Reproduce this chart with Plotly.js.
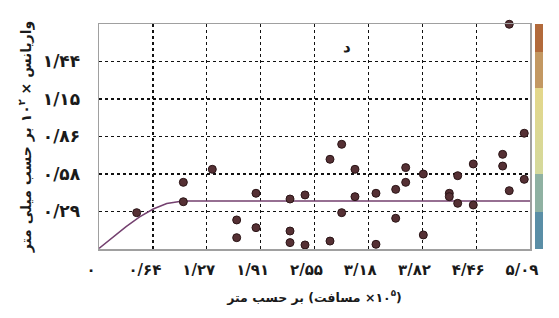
<!DOCTYPE html>
<html>
<head>
<meta charset="utf-8">
<script src="https://cdn.plot.ly/plotly-3.0.1.min.js"></script>
<style>html,body{margin:0;padding:0;background:#fff;}#chart{width:559px;height:318px;}</style>
</head>
<body>
<div id="chart"></div>
<script>
// Experimental variogram points (distance ×10^5 m, variance ×10^2 mm)
const lagX = [0.445, 0.996, 0.996, 1.338, 1.626, 1.626,
  1.854, 1.854, 2.256, 2.433, 2.256, 2.256, 2.433, 2.728, 2.866, 3.023, 3.023, 2.866, 2.728, 3.271, 3.271,
  3.504, 3.504, 3.622, 3.622, 3.830, 3.830, 4.137, 4.137, 4.236, 4.236, 4.420, 4.420, 4.767, 4.767, 4.845, 5.022, 5.022,
  4.845];
const gammaY = [0.279, 0.512, 0.363, 0.612, 0.223, 0.087,
  0.428, 0.164, 0.384, 0.415, 0.138, 0.049, 0.031, 0.689, 0.804, 0.612, 0.402, 0.279, 0.061, 0.428, 0.036,
  0.458, 0.236, 0.625, 0.512, 0.576, 0.108, 0.428, 0.402, 0.563, 0.351, 0.653, 0.338, 0.727, 0.637, 0.448, 0.889, 0.535,
  1.726];
// Fitted model curve
const modelX = [0, 0.16, 0.32, 0.48, 0.64, 0.80, 0.99, 5.09];
const modelY = [0.005, 0.088, 0.172, 0.246, 0.307, 0.349, 0.368, 0.368];
// Tick values / labels
const xTickVals = [0, 0.636, 1.273, 1.909, 2.545, 3.18, 3.82, 4.455, 5.09];
const xTickText = ['۰', '۰/۶۴', '۱/۲۷', '۱/۹۱', '۲/۵۵', '۳/۱۸', '۳/۸۲', '۴/۴۶', '۵/۰۹'];
const yTickVals = [0.288, 0.576, 0.864, 1.152, 1.44];
const yTickText = ['۰/۲۹', '۰/۵۸', '۰/۸۶', '۱/۱۵', '۱/۴۴'];
const colorbarLevels = [0, 1];
const panelLabel = 'د';
const xTitle = '\u200F(۱۰<sup>۵</sup>× مسافت) بر حسب متر';
const yTitle = 'واریانس × ۱۰<sup>۲</sup> بر حسب میلی متر';

const fontFam = 'DejaVu Sans, sans-serif';

const traces = [
  {
    x: modelX, y: modelY, type: 'scatter', mode: 'lines',
    line: {color: '#74406f', width: 1.5}, hoverinfo: 'skip', showlegend: false
  },
  {
    x: lagX, y: gammaY, type: 'scatter', mode: 'markers', cliponaxis: false,
    marker: {size: 8, color: '#553034', line: {color: '#2a1416', width: 1}},
    showlegend: false
  },
  {
    x: [null, null], y: [null, null], type: 'scatter', mode: 'markers', showlegend: false, hoverinfo: 'skip',
    marker: {
      color: colorbarLevels, cmin: 0, cmax: 1, showscale: true,
      colorscale: [[0, '#5a8ea6'], [0.164, '#5a8ea6'], [0.164, '#8fb1a2'], [0.333, '#8fb1a2'],
                   [0.333, '#d4d99c'], [0.716, '#e4d78a'], [0.716, '#c39862'], [0.876, '#c39862'],
                   [0.876, '#b26a3b'], [1, '#b26a3b']],
      colorbar: {x: 1.0116, xanchor: 'left', xref: 'paper', y: 0, yanchor: 'bottom', len: 1, lenmode: 'fraction',
                 thickness: 8, xpad: 0, ypad: 0, outlinewidth: 0, showticklabels: false, ticks: ''}
    }
  }
];

const layout = {
  width: 559, height: 318,
  margin: {l: 99, r: 29, t: 24, b: 69},
  paper_bgcolor: '#fff', plot_bgcolor: '#fff',
  font: {family: fontFam, color: '#1a1a1a'},
  xaxis: {
    range: [0, 5.09], tickmode: 'array', tickvals: xTickVals, ticktext: xTickText,
    showgrid: true, gridcolor: '#111', griddash: 'dot', gridwidth: 1.3,
    showline: true, mirror: true, linecolor: '#a0a0a0', linewidth: 1.5,
    zeroline: false, ticks: '', ticklabelshift: -8, ticklabelstandoff: 6,
    tickfont: {family: fontFam, size: 15, weight: 'bold', color: '#1a1a1a'},
    title: {text: xTitle, standoff: 15, font: {family: fontFam, size: 12.5, weight: 'bold', color: '#1a1a1a'}}
  },
  yaxis: {
    range: [0, 1.728], tickmode: 'array', tickvals: yTickVals, ticktext: yTickText,
    showgrid: true, gridcolor: '#111', griddash: 'dot', gridwidth: 1.3,
    showline: true, mirror: true, linecolor: '#a0a0a0', linewidth: 1.5,
    zeroline: false, ticks: '', ticklabelstandoff: 14,
    tickfont: {family: fontFam, size: 17, weight: 'bold', color: '#1a1a1a'},
    title: {text: yTitle, standoff: 8, font: {family: fontFam, size: 14, weight: 'bold', color: '#1a1a1a'}}
  },
  annotations: [{
    text: panelLabel, xref: 'paper', yref: 'paper', x: 0.575, y: 0.947,
    showarrow: false, font: {family: fontFam, size: 15, weight: 'bold', color: '#1a1a1a'}
  }]
};

Plotly.newPlot('chart', traces, layout, {displayModeBar: false, staticPlot: true});
</script>
</body>
</html>
